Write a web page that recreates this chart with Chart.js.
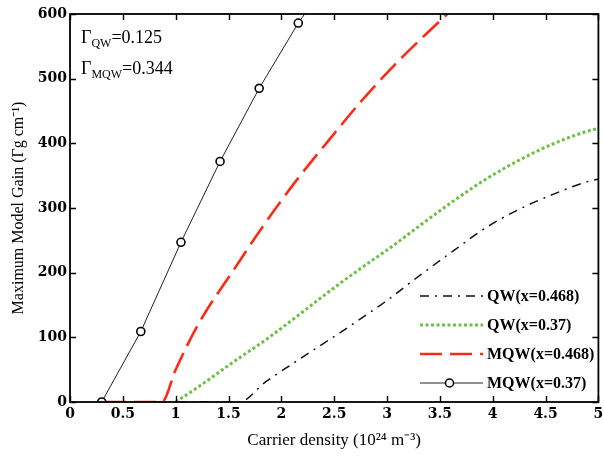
<!DOCTYPE html>
<html>
<head>
<meta charset="utf-8">
<script src="https://cdn.jsdelivr.net/npm/chart.js@4/dist/chart.umd.min.js"></script>
<style>
  body { margin: 0; background: #fff; }
  canvas { display: block; }
</style>
</head>
<body>
<canvas id="gainChart" width="604" height="456"></canvas>
<script>
// carrier density (10^24 m^-3) vs maximum modal gain (cm^-1)
const qw468X = [0.8, 1.6, 1.85, 2.16, 2.47, 2.78, 3.0, 3.32, 3.63, 3.94, 4.25, 4.57, 4.88, 5.0];
const qw468Y = [0, 0, 31, 65, 98, 132, 157, 197, 234, 270, 298, 321, 340, 345];

const qw37X = [1.0, 1.22, 1.53, 1.85, 2.16, 2.47, 2.78, 3.0, 3.32, 3.63, 3.94, 4.25, 4.57, 4.88, 5.0];
const qw37Y = [0, 24, 60, 96, 134, 173, 210, 235, 274, 311, 345, 374, 399, 418, 423];

const mqw468X = [0.32, 0.87, 1.0, 1.22, 1.56, 1.81, 2.13, 2.44, 2.75, 3.07, 3.35, 3.57];
const mqw468Y = [0, 0, 50, 122, 207, 268, 340, 403, 464, 521, 566, 600];

// last point only continues the line up to the frame (no marker)
const mqw37X = [0.3, 0.67, 1.05, 1.42, 1.79, 2.16, 2.22];
const mqw37Y = [0, 109, 247, 372, 485, 586, 600];

const seriesNames = ['QW(x=0.468)', 'QW(x=0.37)', 'MQW(x=0.468)', 'MQW(x=0.37)'];
const confinement = [['QW', '0.125'], ['MQW', '0.344']];

const xTicks = { min: 0, max: 5, step: 0.5 };
const yTicks = { min: 0, max: 600, step: 100 };

const pts = (xs, ys) => xs.map((x, i) => ({ x: x, y: ys[i] }));

const SERIF = '"Liberation Serif", "Times New Roman", serif';
const TICKFONT = '"DejaVu Serif", serif';

// inward ticks on all four sides plus the frame
const frameTicks = {
  id: 'frameTicks',
  afterDraw(chart) {
    const { ctx, chartArea: a, scales } = chart;
    const len = 6;
    ctx.save();
    ctx.strokeStyle = '#000';
    ctx.lineWidth = 1.4;
    ctx.beginPath();
    scales.x.ticks.forEach(t => {
      const px = Math.round(scales.x.getPixelForValue(t.value)) + 0.5;
      ctx.moveTo(px, a.bottom); ctx.lineTo(px, a.bottom - len);
      ctx.moveTo(px, a.top); ctx.lineTo(px, a.top + len);
    });
    scales.y.ticks.forEach(t => {
      const py = Math.round(scales.y.getPixelForValue(t.value)) + 0.5;
      ctx.moveTo(a.left, py); ctx.lineTo(a.left + len, py);
      ctx.moveTo(a.right, py); ctx.lineTo(a.right - len, py);
    });
    ctx.stroke();
    ctx.lineWidth = 1.8;
    ctx.strokeRect(a.left, a.top, a.right - a.left, a.bottom - a.top);
    ctx.restore();
  }
};

// Γ values in the upper left corner
const gammaNotes = {
  id: 'gammaNotes',
  afterDraw(chart) {
    const { ctx, chartArea: a } = chart;
    ctx.save();
    ctx.fillStyle = '#000';
    ctx.textBaseline = 'alphabetic';
    confinement.forEach(([sub, val], i) => {
      let x = a.left + 11;
      const y = a.top + 29 + i * 31;
      ctx.font = '18px ' + SERIF;
      ctx.fillText('Γ', x, y);
      x += ctx.measureText('Γ').width;
      ctx.font = '12px ' + SERIF;
      ctx.fillText(sub, x, y + 4);
      x += ctx.measureText(sub).width;
      ctx.font = '18px ' + SERIF;
      ctx.fillText('=' + val, x, y);
    });
    ctx.restore();
  }
};

// legend in the lower right of the plot, built from the dataset styles
const cornerLegend = {
  id: 'cornerLegend',
  afterDraw(chart) {
    const { ctx } = chart;
    const x0 = 420, x1 = 483;
    ctx.save();
    chart.data.datasets.forEach((ds, i) => {
      const y = 296 + i * 29;
      ctx.strokeStyle = ds.borderColor;
      ctx.lineWidth = ds.borderWidth;
      ctx.setLineDash(ds.borderDash || []);
      ctx.beginPath();
      ctx.moveTo(x0, y); ctx.lineTo(x1, y);
      ctx.stroke();
      ctx.setLineDash([]);
      if (ds.showMarker) {
        ctx.beginPath();
        ctx.arc((x0 + x1) / 2 - 2, y, 4, 0, Math.PI * 2);
        ctx.fillStyle = '#fff';
        ctx.fill();
        ctx.lineWidth = 1.5;
        ctx.strokeStyle = '#000';
        ctx.stroke();
      }
      ctx.fillStyle = '#000';
      ctx.font = 'bold 16px ' + SERIF;
      ctx.textBaseline = 'middle';
      ctx.fillText(ds.label, x1 + 4, y + 1);
    });
    ctx.restore();
  }
};

new Chart(document.getElementById('gainChart'), {
  type: 'scatter',
  data: {
    datasets: [
      {
        label: seriesNames[0],
        data: pts(qw468X, qw468Y),
        showLine: true,
        borderColor: '#111',
        borderWidth: 1.5,
        borderDash: [9, 6, 2, 6],
        pointRadius: 0,
        cubicInterpolationMode: 'monotone',
        order: 4
      },
      {
        label: seriesNames[1],
        data: pts(qw37X, qw37Y),
        showLine: true,
        borderColor: '#6fbf45',
        borderWidth: 3,
        borderDash: [3, 2.5],
        pointRadius: 0,
        cubicInterpolationMode: 'monotone',
        order: 3
      },
      {
        label: seriesNames[2],
        data: pts(mqw468X, mqw468Y),
        showLine: true,
        borderColor: '#ff2a16',
        borderWidth: 2.6,
        borderDash: [22, 8],
        pointRadius: 0,
        cubicInterpolationMode: 'monotone',
        order: 2
      },
      {
        label: seriesNames[3],
        data: pts(mqw37X, mqw37Y),
        showLine: true,
        showMarker: true,
        borderColor: '#222',
        borderWidth: 1,
        pointRadius: mqw37X.map((_, i) => (i < mqw37X.length - 1 ? 4 : 0)),
        pointBorderWidth: 1.6,
        pointBorderColor: '#000',
        pointBackgroundColor: '#fff',
        order: 1
      }
    ]
  },
  options: {
    responsive: false,
    animation: false,
    events: [],
    layout: { padding: { top: 14, right: 2, left: 0, bottom: 0 } },
    plugins: {
      legend: { display: false },
      tooltip: { enabled: false }
    },
    scales: {
      x: {
        type: 'linear',
        min: xTicks.min,
        max: xTicks.max,
        grid: { display: false, drawTicks: false },
        border: { display: false },
        ticks: {
          stepSize: xTicks.step,
          padding: 4,
          color: '#000',
          maxRotation: 0,
          font: { family: TICKFONT, weight: 'bold', size: 14 },
          callback: v => String(Math.round(v * 10) / 10)
        },
        title: {
          display: true,
          text: 'Carrier density (10²⁴ m⁻³)',
          color: '#000',
          font: { family: SERIF, size: 17 },
          padding: { top: 0, bottom: 5 }
        },
        afterFit(scale) {
          scale.height = 54;
          scale.paddingLeft = 0;
          scale.paddingRight = 0;
        }
      },
      y: {
        type: 'linear',
        min: yTicks.min,
        max: yTicks.max,
        grid: { display: false, drawTicks: false },
        border: { display: false },
        ticks: {
          stepSize: yTicks.step,
          padding: 3,
          color: '#000',
          font: { family: TICKFONT, weight: 'bold', size: 14 }
        },
        title: {
          display: true,
          text: 'Maximum Model Gain (Γg cm⁻¹)',
          color: '#000',
          font: { family: SERIF, size: 16 },
          padding: { top: 9, bottom: 0 }
        },
        afterFit(scale) {
          scale.width = 70;
          scale.paddingTop = 0;
          scale.paddingBottom = 0;
        }
      }
    }
  },
  plugins: [frameTicks, gammaNotes, cornerLegend]
});
</script>
</body>
</html>
